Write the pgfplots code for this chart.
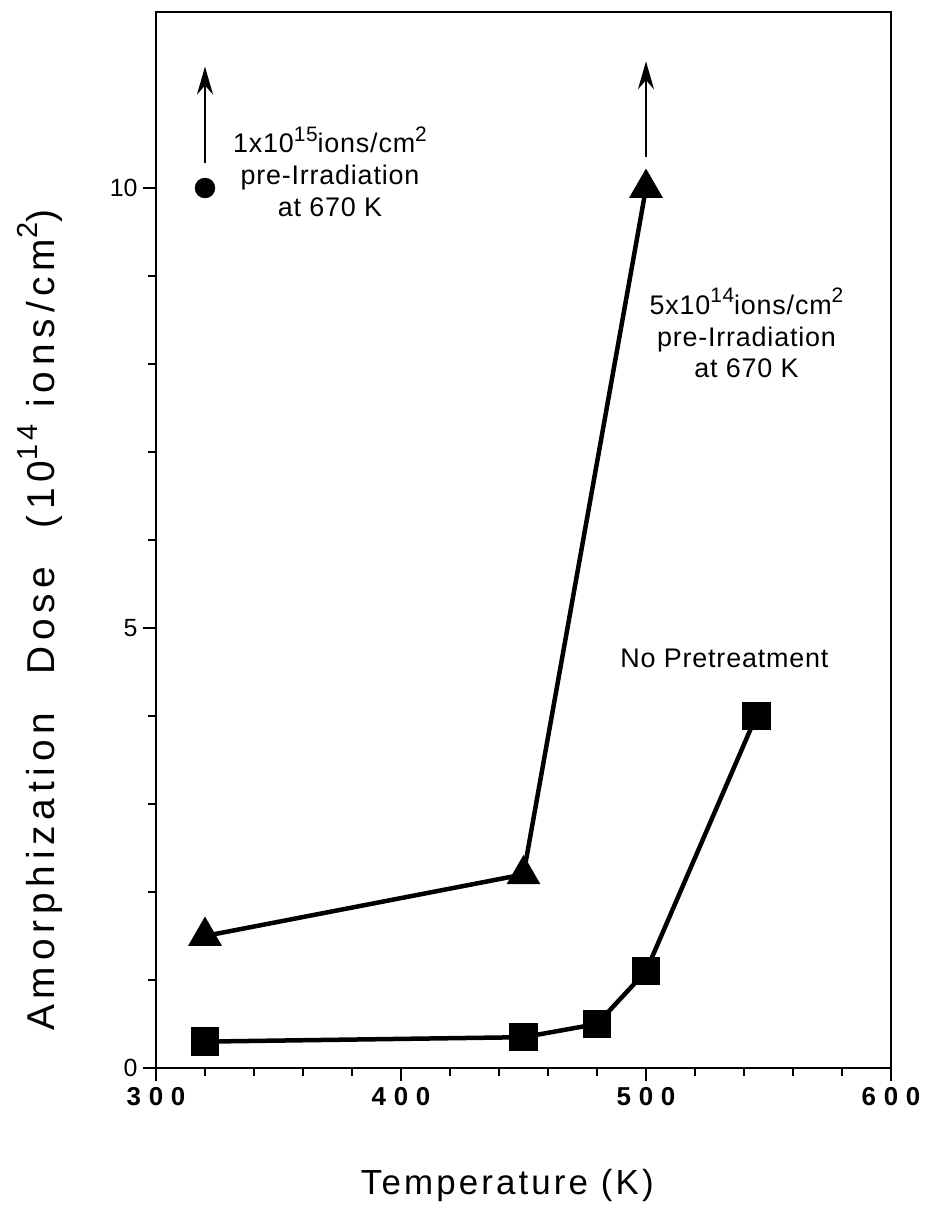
\documentclass[border=0pt]{standalone}
\usepackage{fontspec}
\setmainfont{Liberation Sans}
\newfontfamily\labfont[LetterSpace=9]{Liberation Sans}
\newfontfamily\ylabfont[LetterSpace=15]{Liberation Sans}
\newfontfamily\tickfont[LetterSpace=30]{Liberation Sans}
\newfontfamily\annfont[LetterSpace=3]{Liberation Sans}
\newcommand\supx[2]{\raisebox{0.42em}{\fontsize{#1}{#1}\selectfont #2}}
\usepackage{pgfplots}
\pgfplotsset{compat=1.18}
\usetikzlibrary{arrows.meta}
\begin{document}
\begin{tikzpicture}[x=1bp,y=1bp]
\useasboundingbox (-156bp,-142bp) rectangle (771bp,1068bp);
\begin{axis}[
  scale only axis, width=735bp, height=1056bp,
  xmin=300, xmax=600, ymin=0, ymax=12,
  axis line style={line width=2.2bp},
  xtick={300,400,500,600}, minor x tick num=4,
  ytick={0,5,10}, minor y tick num=4,
  tick align=outside, xtick pos=bottom, ytick pos=left,
  major tick length=13bp, minor tick length=8bp,
  every tick/.style={line width=2bp, black},
  /pgf/number format/assume math mode=true,
  /pgf/number format/1000 sep={},
  xticklabel style={font=\tickfont\bfseries\fontsize{26}{28}\selectfont, anchor=north, yshift=-3bp},
  yticklabel style={font=\fontsize{25}{28}\selectfont, anchor=east, xshift=-2bp},
  xlabel={Temperature (K)},
  xlabel style={font=\labfont\fontsize{35}{40}\selectfont, at={(rel axis cs:0.478,0)}, anchor=center, yshift=-117bp},
  ylabel={Amorphization\hspace*{38bp}Dose\hspace*{38bp}(10\supx{29}{14} ions/cm\supx{29}{2})},
  ylabel style={font=\ylabfont\fontsize{39}{40}\selectfont, at={(rel axis cs:-0.158,0.424)}, anchor=center},
  clip=false,
]
\addplot[black, line width=4.5bp, mark=triangle*, mark size=15bp, mark options={solid}]
  coordinates {(320,1.5) (450,2.2) (500,10)};
\addplot[black, line width=4.5bp, mark=square*, mark size=12bp]
  coordinates {(320,0.3) (450,0.35) (480,0.5) (500,1.1) (545,4.0)};
\addplot[black, only marks, mark=*, mark size=10bp]
  coordinates {(320,10)};
\draw[-{Stealth[length=28bp,width=16bp]}, line width=2bp] (axis cs:320,10.28) -- (axis cs:320,11.38);
\draw[-{Stealth[length=28bp,width=16bp]}, line width=2bp] (axis cs:500,10.35) -- (axis cs:500,11.44);
\node[font=\annfont\fontsize{27}{32}\selectfont, align=center, anchor=north] at (axis cs:371,10.74)
  {1x10\supx{21}{15}ions/cm\supx{21}{2}\\pre-Irradiation\\at 670 K};
\node[font=\annfont\fontsize{27}{32}\selectfont, align=center, anchor=north] at (axis cs:541,8.9)
  {5x10\supx{21}{14}ions/cm\supx{21}{2}\\pre-Irradiation\\at 670 K};
\node[font=\annfont\fontsize{27}{32}\selectfont, anchor=center] at (axis cs:532,4.65) {No Pretreatment};
\end{axis}
\end{tikzpicture}
\end{document}
